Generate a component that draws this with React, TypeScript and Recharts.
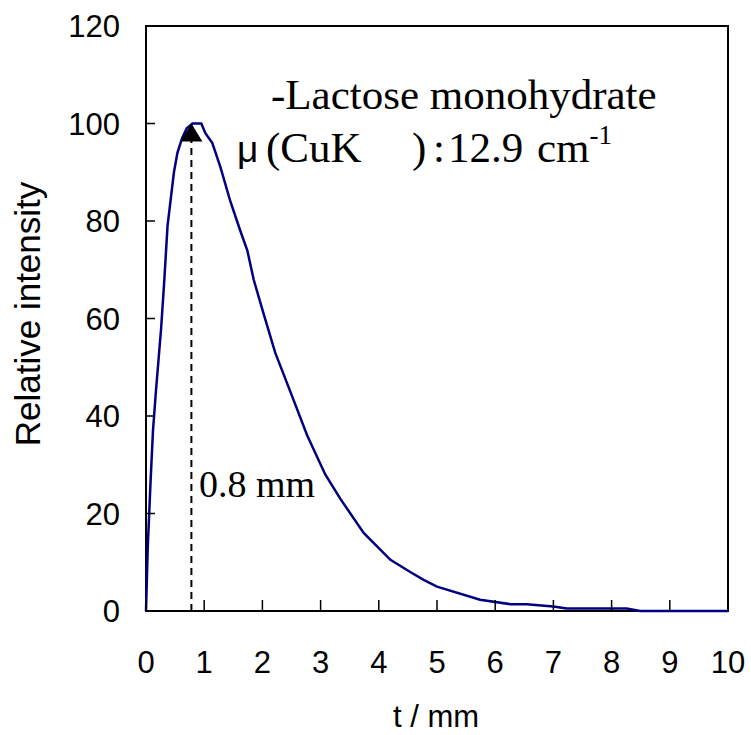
import {
  LineChart,
  Line,
  XAxis,
  YAxis,
  ReferenceArea,
  ReferenceLine,
  ReferenceDot,
  Customized,
} from 'recharts';

// depth t (mm) vs relative intensity
const depth = [
  0, 0.03, 0.08, 0.12, 0.17, 0.26, 0.31, 0.37, 0.42, 0.48, 0.54, 0.62, 0.7, 0.8, 0.95,
  1.02, 1.14, 1.28, 1.45, 1.62, 1.74, 1.85, 2.02, 2.22, 2.48, 2.77, 3.08, 3.34, 3.74, 4.2,
  4.54, 4.77, 5.0, 5.74, 6.26, 6.54, 7.0, 7.23, 8.26, 8.49, 10,
];
const intensity = [
  0, 13, 27, 37, 45, 58, 67, 79, 84, 90, 94, 97, 99, 100, 100,
  98, 96, 91, 84, 78, 74, 68, 61, 53, 45, 36, 28, 23, 16, 10.5,
  8, 6.4, 5, 2.3, 1.4, 1.4, 0.9, 0.5, 0.5, 0, 0,
];
const xTicks = [0, 1, 2, 3, 4, 5, 6, 7, 8, 9, 10];
const yTicks = [0, 20, 40, 60, 80, 100, 120];
const peakDepth = 0.78;
const peakLabel = '0.8 mm';

const data = depth.map((t, i) => ({ t, v: intensity[i] }));

const SANS = '"Liberation Sans", Arial, sans-serif';
const SERIF = '"Liberation Serif", "Times New Roman", serif';

const XTick = ({ x, y, payload }: any) => (
  <g>
    <line x1={x} y1={y} x2={x} y2={y - 11} stroke="#000" strokeWidth={1.5} />
    <text x={x} y={y + 62} textAnchor="middle" fontFamily={SANS} fontSize={31} fill="#000">
      {payload.value}
    </text>
  </g>
);

const YTick = ({ x, y, payload }: any) => (
  <g>
    <line x1={x} y1={y} x2={x + 9} y2={y} stroke="#000" strokeWidth={1.5} />
    <text x={x - 26} y={y + 11} textAnchor="end" fontFamily={SANS} fontSize={31} fill="#000">
      {payload.value}
    </text>
  </g>
);

const Triangle = ({ cx, cy }: any) => (
  <polygon points={`${cx},${cy} ${cx - 11},${cy + 18} ${cx + 11},${cy + 18}`} fill="#000" />
);

const Notes = () => (
  <g fill="#000">
    <text x={271} y={109} fontFamily={SERIF} fontSize={43}>-Lactose monohydrate</text>
    <text y={162} fontSize={43}>
      <tspan x={237} fontFamily={SANS} fontSize={37}>μ</tspan>
      <tspan x={266} fontFamily={SERIF}>(CuK</tspan>
      <tspan x={412} fontFamily={SERIF}>)</tspan>
      <tspan x={433} fontFamily={SERIF}>:</tspan>
      <tspan x={448} fontFamily={SERIF}>12.9</tspan>
      <tspan x={537} fontFamily={SERIF}>cm</tspan>
      <tspan fontFamily={SERIF} fontSize={27} dy={-18}>-1</tspan>
    </text>
    <text x={199} y={497} fontFamily={SERIF} fontSize={38}>{peakLabel}</text>
    <text x={436} y={727} textAnchor="middle" fontFamily={SANS} fontSize={31}>t / mm</text>
    <text
      x={40}
      y={314}
      textAnchor="middle"
      fontFamily={SANS}
      fontSize={35}
      transform="rotate(-90 40 314)"
    >
      Relative intensity
    </text>
  </g>
);

export default function App() {
  return (
    <div style={{ position: 'absolute', left: 0, top: 0, background: '#fff' }}>
      <LineChart
        width={751}
        height={735}
        data={data}
        margin={{ top: 26, right: 23, left: 0, bottom: 0 }}
      >
        <XAxis
          dataKey="t"
          type="number"
          domain={[0, 10]}
          ticks={xTicks}
          tick={<XTick />}
          tickSize={0}
          tickMargin={0}
          axisLine={false}
          tickLine={false}
          height={124}
          interval={0}
        />
        <YAxis
          type="number"
          domain={[0, 120]}
          ticks={yTicks}
          tick={<YTick />}
          tickSize={0}
          tickMargin={0}
          axisLine={false}
          tickLine={false}
          width={146}
          interval={0}
        />
        <ReferenceArea x1={0} x2={10} y1={0} y2={120} fill="none" stroke="#000" strokeWidth={2} />
        <ReferenceLine
          segment={[{ x: peakDepth, y: 0 }, { x: peakDepth, y: 97 }]}
          stroke="#000"
          strokeWidth={2}
          strokeDasharray="7 5"
        />
        <Line
          type="linear"
          dataKey="v"
          stroke="#000080"
          strokeWidth={2.5}
          dot={false}
          isAnimationActive={false}
        />
        <ReferenceDot x={peakDepth} y={100} shape={<Triangle />} />
        <Customized component={Notes} />
      </LineChart>
    </div>
  );
}
